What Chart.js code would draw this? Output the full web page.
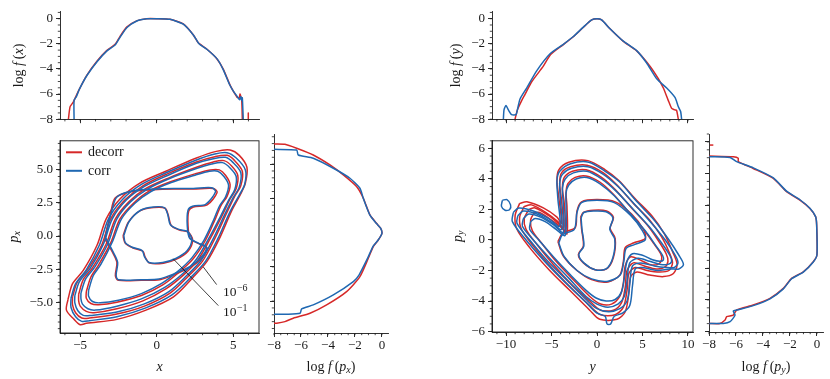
<!DOCTYPE html>
<html>
<head>
<meta charset="utf-8">
<script src="https://cdn.jsdelivr.net/npm/chart.js@4.4.1/dist/chart.umd.min.js"></script>
<style>
  body { margin: 0; background: #fff; width: 830px; height: 379px; position: relative; overflow: hidden; }
  canvas { position: absolute; }
</style>
</head>
<body>
<canvas id="fx"></canvas>
<canvas id="xpx"></canvas>
<canvas id="fpx"></canvas>
<canvas id="fy"></canvas>
<canvas id="ypy"></canvas>
<canvas id="fpy"></canvas>
<script>
const RED = '#d62828';
const BLUE = '#1f68b2';
const INK = '#1a1a1a';
const SERIF = '"Liberation Serif", "DejaVu Serif", serif';

// tick values
const xTicksL = [-5, 0, 5];
const pTicksL = [-5, -2.5, 0, 2.5, 5];
const xTicksR = [-10, -5, 0, 5, 10];
const pTicksR = [-6, -4, -2, 0, 2, 4, 6];
const logTicks = [-8, -6, -4, -2, 0];

// marginal log f(x)
const fxXRed = [-5.77, -5.66, -5.45, -5.12, -4.58, -3.92, -3.27, -2.72, -2.4, -1.96, -1.31, -0.65, 0, 0.87, 1.74, 2.4, 2.72, 3.27, 3.92, 4.36, 4.79, 5.01, 5.27, 5.4, 5.45, 5.56, 5.6];
const fxYRed = [-8, -7, -6.64, -5.77, -4.53, -3.41, -2.54, -2.04, -1.42, -0.67, -0.17, 0, 0, -0.05, -0.42, -1.29, -1.92, -2.41, -3.16, -4.03, -5.27, -5.77, -6.27, -6.3, -6.0, -6.5, -8];
const fxXRedTail = [5.99, 5.99];
const fxYRedTail = [-7.5, -8];
const fxXBlue = [-5.4, -5.4, -5.25, -5.05, -4.55, -3.9, -3.25, -2.7, -2.38, -1.94, -1.3, -0.65, 0, 0.87, 1.74, 2.42, 2.75, 3.3, 3.95, 4.35, 4.75, 4.98, 5.3, 5.42, 5.5, 5.56, 5.6, 5.66];
const fxYBlue = [-8, -6.5, -6.2, -5.6, -4.5, -3.42, -2.56, -2.07, -1.45, -0.7, -0.18, -0.01, 0, -0.05, -0.44, -1.33, -1.97, -2.45, -3.2, -4.05, -5.2, -5.7, -6.25, -6.45, -6.2, -6.5, -6.3, -8];

// marginal log f(p_x)  (value, p)
const fpxFRed = [-8, -7.19, -6.32, -5.09, -3.85, -2.86, -1.88, -1.38, -0.89, -0.4, -0.1, 0, -0.27, -0.64, -1.01, -1.63, -2.62, -4.1, -5.33, -6.57, -7.19, -7.8, -8];
const fpxPRed = [6.47, 6.45, 6.16, 5.67, 4.94, 4.21, 3.36, 2.51, 1.29, 0.68, 0.32, -0.05, -0.54, -1.02, -1.87, -3.21, -4.31, -5.28, -5.89, -6.25, -6.5, -6.62, -6.62];
const fpxFBlue = [-8, -6.32, -6.2, -5.09, -3.6, -2.37, -1.63, -1.38, -0.9, -0.42, -0.1, 0, -0.28, -0.66, -1.05, -1.7, -2.12, -3.6, -5.09, -5.95, -6.07, -7.06, -8];
const fpxPBlue = [6.08, 6.03, 5.67, 5.43, 4.7, 3.97, 3.24, 2.5, 1.3, 0.68, 0.32, -0.05, -0.54, -1.0, -1.85, -3.1, -3.58, -4.55, -5.28, -5.57, -5.89, -5.96, -5.96];

// marginal log f(y)
const fyXRed = [-9.01, -8.75, -8.28, -7.91, -7.18, -5.9, -5.1, -3.7, -2.6, -1.5, -0.59, 0, 0.51, 1.43, 2.89, 4.36, 5.82, 6.74, 7.29, 7.84, 8.21, 8.57, 8.75, 8.94];
const fyYRed = [-8, -7.26, -6.52, -6.02, -5.02, -3.78, -2.85, -2.06, -1.44, -0.68, -0.1, 0, -0.1, -0.8, -1.8, -2.56, -3.78, -4.78, -5.52, -6.52, -7.14, -7.26, -7.3, -8];
const fyXBlue = [-10.29, -10.22, -10.0, -9.74, -9.38, -8.9, -8.75, -8.46, -7.73, -6.63, -5.16, -3.7, -2.6, -1.5, -0.59, 0, 0.51, 1.43, 2.89, 4.36, 5.46, 6.56, 7.66, 8.57, 8.94, 9.19, 9.3];
const fyYBlue = [-8, -7.26, -6.9, -7.26, -7.64, -7.64, -7.26, -6.39, -5.52, -4.15, -2.79, -2.04, -1.42, -0.67, -0.1, 0, -0.1, -0.8, -1.79, -2.54, -3.53, -4.78, -5.52, -6.27, -7.01, -7.39, -8];

// marginal log f(p_y)  (value, p)
const fpyFRed = [-7.98, -6.2, -5.83, -5.83, -4.72, -3.23, -2.25, -1.26, -0.52, -0.1, -0.02, 0, -0.27, -1.01, -1.88, -2.49, -3.48, -4.72, -5.95, -6.2, -6.69, -6.81, -7.19, -7.98];
const fpyPRed = [5.1, 5.06, 4.96, 4.75, 4.32, 3.69, 2.85, 2.32, 1.79, 1.27, 0.74, -1.16, -1.58, -2.22, -2.64, -3.27, -3.9, -4.32, -4.64, -4.96, -5.06, -5.27, -5.49, -5.49];
const fpyFRedTail = [-7.93, -7.68];
const fpyPRedTail = [5.8, 5.8];
const fpyFBlue = [-7.98, -6.44, -5.95, -4.72, -3.23, -2.25, -1.26, -0.52, -0.1, -0.02, 0, -0.27, -1.01, -1.88, -2.49, -3.48, -4.72, -5.95, -6.2, -6.07, -6.44, -6.94, -7.98];
const fpyPBlue = [5.06, 5.02, 4.75, 4.36, 3.72, 2.88, 2.34, 1.8, 1.27, 0.74, -1.16, -1.6, -2.24, -2.66, -3.3, -3.93, -4.36, -4.64, -4.7, -4.96, -5.38, -5.49, -5.49];

// contours of (x, p_x), levels 1e-1 ... 1e-6
const xpxRed = [
  [[-2.2,0.0],[-1.85,1.05],[-1.1,1.9],[-0.2,2.15],[0.55,2.1],[0.75,1.6],[0.95,0.8],[1.5,0.45],[2.05,0.3],[2.35,-0.3],[2.05,-1.15],[1.3,-1.75],[0.45,-2.05],[-0.45,-2.05],[-0.75,-1.6],[-0.9,-1.15],[-1.55,-0.9],[-2.05,-0.55],[-2.2,0.0]],
  [[-3.4,-0.2],[-3.0,1.8],[-2.7,2.9],[-1.7,3.35],[-0.2,3.5],[1.1,3.55],[2.4,3.55],[3.7,3.6],[3.95,3.3],[3.3,2.35],[2.4,2.2],[2.1,1.9],[2.05,0.8],[2.2,-0.2],[2.8,-0.6],[3.3,-0.9],[3.0,-1.6],[2.3,-2.3],[1.2,-2.9],[0.2,-3.3],[-1.0,-3.35],[-2.5,-3.35],[-2.7,-3.0],[-2.6,-2.0],[-2.9,-1.2],[-3.4,-0.2]],
  [[-4.6,-4.2],[-4.3,-3.1],[-3.8,-2.2],[-3.0,-0.5],[-2.4,1.3],[-1.5,2.5],[-0.5,3.4],[0.9,4.1],[2.5,4.7],[3.5,5.0],[4.1,5.0],[4.5,4.6],[4.8,3.9],[4.6,3.0],[4.2,2.3],[3.8,1.2],[3.2,-0.3],[2.4,-1.7],[1.5,-2.7],[0.4,-3.7],[-1.0,-4.5],[-2.6,-5.0],[-3.8,-5.2],[-4.3,-5.1],[-4.6,-4.7],[-4.6,-4.2]],
  [[-5.1,-4.4],[-4.8,-3.3],[-4.2,-2.4],[-3.3,-0.6],[-2.7,1.3],[-1.8,2.6],[-0.7,3.6],[0.8,4.4],[2.6,5.2],[3.7,5.6],[4.4,5.7],[4.9,5.3],[5.3,4.6],[5.2,3.6],[4.8,2.8],[4.3,1.6],[3.5,-0.2],[2.7,-1.8],[1.8,-2.9],[0.6,-4.0],[-0.9,-4.9],[-2.6,-5.5],[-4.1,-5.8],[-4.6,-5.7],[-5.0,-5.3],[-5.1,-4.9],[-5.1,-4.4]],
  [[-5.5,-4.6],[-5.2,-3.5],[-4.5,-2.5],[-3.6,-0.7],[-3.0,1.3],[-2.1,2.7],[-0.9,3.8],[0.7,4.7],[2.6,5.6],[3.8,6.0],[4.6,6.1],[5.1,5.7],[5.6,4.9],[5.5,3.8],[5.1,3.0],[4.6,1.8],[3.8,-0.2],[3.0,-1.9],[2.1,-3.0],[0.9,-4.3],[-0.8,-5.3],[-2.6,-5.9],[-4.4,-6.2],[-4.9,-6.2],[-5.3,-5.8],[-5.5,-5.2],[-5.5,-4.6]],
  [[-5.8,-4.8],[-5.5,-3.6],[-4.8,-2.6],[-3.9,-0.7],[-3.3,1.3],[-2.4,2.8],[-1.1,4.0],[0.6,4.9],[2.6,5.9],[3.9,6.4],[4.8,6.5],[5.4,6.1],[5.9,5.2],[5.8,4.0],[5.5,3.2],[4.9,1.9],[4.1,-0.2],[3.3,-1.9],[2.4,-3.1],[1.1,-4.6],[-0.7,-5.6],[-2.6,-6.3],[-4.6,-6.6],[-5.0,-6.7],[-5.4,-6.3],[-5.9,-5.6],[-5.8,-4.8]]
];
const xpxBlue = [
  [[-2.15,0.05],[-1.8,1.1],[-1.05,1.95],[-0.2,2.2],[0.5,2.15],[0.72,1.65],[0.9,0.85],[1.45,0.5],[2.0,0.35],[2.3,-0.25],[2.0,-1.1],[1.25,-1.7],[0.4,-2.0],[-0.5,-2.0],[-0.8,-1.55],[-0.95,-1.1],[-1.6,-0.85],[-2.05,-0.5],[-2.15,0.05]],
  [[-3.35,-0.1],[-2.95,1.85],[-2.6,2.95],[-1.6,3.4],[-0.2,3.55],[1.1,3.6],[2.4,3.6],[3.6,3.65],[3.85,3.35],[3.2,2.4],[2.35,2.25],[2.05,1.95],[2.0,0.8],[2.15,-0.15],[2.75,-0.55],[3.25,-0.85],[2.95,-1.55],[2.25,-2.25],[1.15,-2.85],[0.15,-3.25],[-1.0,-3.3],[-2.5,-3.3],[-2.65,-2.95],[-2.55,-2.0],[-2.85,-1.2],[-3.35,-0.1]],
  [[-4.45,-4.1],[-4.15,-3.0],[-3.65,-2.15],[-2.9,-0.45],[-2.3,1.3],[-1.4,2.5],[-0.4,3.35],[0.95,4.05],[2.5,4.6],[3.45,4.9],[4.0,4.9],[4.4,4.5],[4.7,3.85],[4.5,2.95],[4.1,2.25],[3.7,1.15],[3.1,-0.3],[2.3,-1.65],[1.4,-2.65],[0.3,-3.6],[-1.0,-4.35],[-2.5,-4.85],[-3.7,-5.05],[-4.2,-4.95],[-4.45,-4.55],[-4.45,-4.1]],
  [[-4.95,-4.3],[-4.65,-3.25],[-4.05,-2.35],[-3.2,-0.6],[-2.6,1.3],[-1.7,2.6],[-0.6,3.55],[0.85,4.35],[2.6,5.1],[3.6,5.45],[4.3,5.55],[4.8,5.15],[5.2,4.5],[5.1,3.5],[4.7,2.7],[4.2,1.55],[3.4,-0.2],[2.6,-1.75],[1.7,-2.85],[0.5,-3.9],[-1.0,-4.75],[-2.6,-5.3],[-4.0,-5.6],[-4.5,-5.5],[-4.85,-5.15],[-4.95,-4.75],[-4.95,-4.3]],
  [[-5.35,-4.5],[-5.05,-3.45],[-4.35,-2.45],[-3.5,-0.65],[-2.9,1.3],[-2.0,2.7],[-0.8,3.75],[0.75,4.6],[2.6,5.5],[3.7,5.85],[4.5,5.95],[5.0,5.55],[5.5,4.8],[5.4,3.7],[5.0,2.9],[4.5,1.75],[3.7,-0.2],[2.9,-1.85],[2.0,-2.95],[0.8,-4.2],[-0.85,-5.15],[-2.6,-5.75],[-4.3,-6.0],[-4.8,-6.0],[-5.15,-5.65],[-5.35,-5.05],[-5.35,-4.5]],
  [[-5.6,-4.7],[-5.3,-3.6],[-4.6,-2.55],[-3.75,-0.7],[-3.15,1.3],[-2.25,2.75],[-1.0,3.9],[0.65,4.8],[2.6,5.75],[3.8,6.2],[4.6,6.3],[5.2,5.9],[5.8,5.0],[5.75,3.9],[5.4,3.1],[4.8,1.85],[4.0,-0.2],[3.2,-1.9],[2.3,-3.05],[1.0,-4.45],[-0.75,-5.45],[-2.6,-6.1],[-4.4,-6.4],[-4.9,-6.45],[-5.3,-6.1],[-5.6,-5.4],[-5.6,-4.7]]
];

// contours of (y, p_y)
const ypyRed = [
  [[-1.8,1.5],[-1.5,1.8],[-0.4,1.95],[1.05,1.9],[1.8,1.5],[1.45,0.75],[2.0,0.1],[1.8,-1.15],[1.05,-1.9],[-0.2,-1.95],[-1.5,-1.5],[-2.05,-0.95],[-1.5,-0.4],[-1.7,0.75],[-1.8,1.5]],
  [[-4.3,-0.1],[-3.7,0.5],[-2.4,0.8],[-2.2,1.9],[-1.7,2.5],[0.0,2.65],[2.0,2.5],[3.8,1.7],[5.1,0.7],[5.3,0.1],[4.0,-0.2],[3.1,-0.5],[2.9,-1.4],[2.5,-2.3],[1.2,-2.75],[-0.6,-2.6],[-2.2,-2.0],[-3.7,-1.05],[-4.3,-0.1]],
  [[-6.9,1.8],[-6.3,1.8],[-5.0,1.3],[-3.9,0.8],[-3.3,0.4],[-3.3,2.2],[-3.4,3.1],[-3.2,3.7],[-2.4,4.1],[-1.2,4.2],[0.3,3.8],[1.8,3.0],[3.5,1.8],[5.1,0.7],[6.2,-0.2],[7.0,-0.9],[7.1,-1.3],[6.7,-1.6],[5.8,-1.6],[4.7,-1.3],[3.7,-1.1],[3.1,-1.7],[2.9,-2.8],[2.5,-3.7],[1.6,-4.2],[0.4,-4.2],[-0.8,-3.7],[-2.6,-2.6],[-4.5,-1.4],[-6.1,-0.2],[-7.1,0.6],[-7.3,1.3],[-6.9,1.8]],
  [[-7.5,2.0],[-6.8,2.1],[-5.3,1.6],[-4.1,1.0],[-3.5,0.6],[-3.6,2.4],[-3.8,3.4],[-3.6,4.1],[-2.7,4.5],[-1.2,4.6],[0.5,4.1],[2.0,3.3],[3.8,2.1],[5.5,1.0],[6.7,0.0],[7.6,-0.9],[7.8,-1.4],[7.4,-1.8],[6.5,-1.9],[5.2,-1.7],[4.0,-1.5],[3.3,-2.0],[3.1,-3.1],[2.7,-4.1],[1.8,-4.6],[0.4,-4.6],[-0.8,-4.0],[-2.8,-2.9],[-4.8,-1.6],[-6.6,-0.3],[-7.8,0.7],[-8.0,1.4],[-7.5,2.0]],
  [[-8.0,2.2],[-7.2,2.3],[-5.6,1.8],[-4.3,1.2],[-3.7,0.8],[-3.9,2.6],[-4.1,3.7],[-3.9,4.4],[-2.9,4.8],[-1.1,4.9],[0.7,4.4],[2.2,3.6],[4.0,2.4],[5.8,1.3],[7.1,0.2],[8.0,-0.9],[8.3,-1.5],[7.9,-2.0],[6.9,-2.1],[5.5,-2.0],[4.2,-1.8],[3.5,-2.2],[3.3,-3.3],[2.9,-4.4],[2.0,-4.9],[0.4,-4.9],[-0.8,-4.3],[-2.9,-3.1],[-5.0,-1.8],[-7.0,-0.4],[-8.3,0.7],[-8.5,1.5],[-8.0,2.2]],
  [[-8.5,2.4],[-7.7,2.5],[-5.9,2.1],[-4.4,1.5],[-3.9,1.1],[-4.2,2.8],[-4.4,3.9],[-4.2,4.6],[-3.1,5.1],[-1.0,5.2],[0.9,4.6],[2.4,3.9],[4.2,2.7],[6.0,1.6],[7.4,0.4],[8.4,-0.9],[8.8,-1.6],[8.4,-2.2],[7.3,-2.4],[5.8,-2.3],[4.4,-2.1],[3.7,-2.4],[3.5,-3.5],[3.1,-4.7],[2.2,-5.2],[0.3,-5.2],[-0.8,-4.6],[-3.0,-3.3],[-5.2,-2.0],[-7.4,-0.5],[-8.8,0.7],[-9.0,1.6],[-8.5,2.4]]
];
const ypyBlue = [
  [[-1.75,1.45],[-1.45,1.8],[-0.4,1.9],[1.0,1.85],[1.75,1.45],[1.4,0.7],[1.95,0.05],[1.75,-1.15],[1.0,-1.9],[-0.2,-1.95],[-1.45,-1.5],[-2.0,-0.95],[-1.45,-0.4],[-1.65,0.7],[-1.75,1.45]],
  [[-4.2,-0.2],[-3.8,0.35],[-2.5,0.7],[-2.2,1.8],[-1.7,2.45],[0.0,2.6],[1.9,2.45],[3.7,1.6],[5.0,0.6],[5.3,0.0],[4.1,-0.3],[3.2,-0.55],[2.95,-1.4],[2.55,-2.3],[1.2,-2.7],[-0.6,-2.55],[-2.2,-2.0],[-3.6,-1.1],[-4.2,-0.2]],
  [[-7.3,1.2],[-6.8,1.4],[-5.7,1.2],[-4.5,0.7],[-3.5,0.3],[-3.4,2.1],[-3.4,3.1],[-3.1,3.6],[-2.3,4.0],[-1.1,4.1],[0.3,3.7],[1.9,2.9],[3.7,1.7],[5.3,0.6],[6.5,-0.4],[7.2,-1.0],[7.3,-1.3],[6.9,-1.4],[6.1,-1.3],[5.0,-1.0],[3.9,-0.9],[3.3,-1.4],[3.0,-2.5],[2.7,-3.4],[2.0,-3.9],[1.0,-4.0],[-0.1,-3.8],[-1.2,-3.3],[-2.9,-2.3],[-4.8,-1.1],[-6.4,0.0],[-7.4,0.7],[-7.3,1.2]],
  [[-8.1,1.4],[-7.5,1.7],[-6.2,1.5],[-4.8,1.0],[-3.7,0.5],[-3.7,2.3],[-3.8,3.4],[-3.5,4.0],[-2.6,4.4],[-1.1,4.5],[0.5,4.0],[2.1,3.2],[4.0,2.0],[5.7,0.9],[7.1,-0.2],[8.0,-1.0],[8.2,-1.4],[7.8,-1.6],[7.0,-1.6],[5.8,-1.4],[4.5,-1.2],[3.6,-1.5],[3.3,-2.7],[3.0,-3.7],[2.3,-4.2],[1.2,-4.4],[0.0,-4.2],[-1.2,-3.7],[-3.1,-2.5],[-5.2,-1.2],[-7.0,0.0],[-8.2,0.9],[-8.1,1.4]],
  [[-8.7,1.6],[-8.1,1.9],[-6.6,1.7],[-5.1,1.2],[-3.9,0.7],[-4.0,2.5],[-4.1,3.7],[-3.8,4.3],[-2.8,4.7],[-1.0,4.8],[0.7,4.3],[2.3,3.5],[4.2,2.3],[6.0,1.1],[7.5,0.0],[8.6,-1.0],[8.9,-1.5],[8.5,-1.8],[7.6,-1.8],[6.3,-1.7],[4.8,-1.5],[3.9,-1.7],[3.6,-2.9],[3.3,-4.0],[2.5,-4.5],[1.3,-4.7],[0.0,-4.5],[-1.2,-3.9],[-3.2,-2.7],[-5.4,-1.4],[-7.4,0.0],[-8.8,1.1],[-8.7,1.6]],
  [[-9.2,1.8],[-8.6,2.1],[-7.0,1.9],[-5.3,1.4],[-4.1,0.9],[-4.3,2.7],[-4.4,3.9],[-4.1,4.5],[-2.9,5.0],[-0.9,5.1],[0.9,4.5],[2.5,3.8],[4.4,2.5],[6.3,1.3],[7.8,0.1],[9.0,-1.0],[9.5,-1.6],[9.0,-1.9],[8.0,-1.9],[6.6,-2.0],[5.0,-1.8],[4.2,-1.9],[3.9,-3.0],[3.6,-4.3],[2.8,-4.8],[1.9,-5.0],[1.5,-5.5],[1.1,-5.5],[0.9,-5.0],[0.0,-4.8],[-1.2,-4.1],[-3.3,-2.9],[-5.6,-1.5],[-7.8,0.0],[-9.3,1.2],[-9.2,1.8]],
  [[-10.4,2.6],[-9.9,2.65],[-9.5,2.3],[-9.6,2.0],[-10.1,1.95],[-10.5,2.2],[-10.4,2.6]]
];

// level labels
const levelNotes = [
  { exp: '\u22126', from: [3.05, -2.34], to: [3.92, -3.67], at: [4.33, -4.55] },
  { exp: '\u22121', from: [1.08, -1.72], to: [4.03, -5.26], at: [4.33, -6.08] }
];
const legendItems = [['decorr', RED], ['corr', BLUE]];

const minus = s => String(s).replace('-', '\u2212');
const fmtInt = v => minus(v);
const fmtOne = v => minus(v.toFixed(1));

function pairs(xs, ys) { return xs.map((x, i) => ({ x: x, y: ys[i] })); }
function pts(list) { return list.map(p => ({ x: p[0], y: p[1] })); }
function line(data, color, order, tension) {
  return { data: data, borderColor: color, borderWidth: 1.5, pointRadius: 0, showLine: true,
    tension: tension, fill: false, order: order, borderJoinStyle: 'round' };
}

function drawRich(ctx, parts, cx, cy, rot) {
  const fonts = parts.map(p => (p[1] ? 'italic ' : '') + (p[2] ? 10 : 14) + 'px ' + SERIF);
  let w = 0;
  const ws = parts.map((p, i) => { ctx.font = fonts[i]; const m = ctx.measureText(p[0]).width; w += m; return m; });
  ctx.save();
  ctx.translate(cx, cy);
  if (rot) ctx.rotate(-Math.PI / 2);
  ctx.fillStyle = INK;
  ctx.textBaseline = 'alphabetic';
  let x = -w / 2;
  parts.forEach((p, i) => { ctx.font = fonts[i]; ctx.fillText(p[0], x, p[2] ? 7 : 4.5); x += ws[i]; });
  ctx.restore();
}

const deco = {
  id: 'deco',
  afterDraw(chart, args, o) {
    const ctx = chart.ctx, a = chart.chartArea;
    const xs = chart.scales.x, ys = chart.scales.y;
    ctx.save();
    ctx.strokeStyle = INK;
    ctx.lineWidth = 0.8;
    ctx.beginPath();
    for (let v = Math.ceil(xs.min / o.xMinor) * o.xMinor; v <= xs.max + 1e-9; v += o.xMinor) {
      const p = xs.getPixelForValue(v);
      ctx.moveTo(p, a.bottom); ctx.lineTo(p, a.bottom + 2.2);
    }
    for (let v = Math.ceil(ys.min / o.yMinor) * o.yMinor; v <= ys.max + 1e-9; v += o.yMinor) {
      const p = ys.getPixelForValue(v);
      ctx.moveTo(a.left, p); ctx.lineTo(a.left - 2.2, p);
    }
    ctx.stroke();
    if (o.box) {
      ctx.lineWidth = 0.9;
      ctx.strokeRect(a.left, a.top, a.right - a.left, a.bottom - a.top);
    }
    if (o.legend) {
      o.legend.forEach((it, i) => {
        const y = a.top + 11.5 + i * 18.5;
        ctx.strokeStyle = it[1]; ctx.lineWidth = 2;
        ctx.beginPath(); ctx.moveTo(a.left + 6, y); ctx.lineTo(a.left + 22, y); ctx.stroke();
        ctx.fillStyle = INK; ctx.font = '14px ' + SERIF; ctx.textBaseline = 'middle';
        ctx.fillText(it[0], a.left + 28, y + 0.5);
      });
    }
    if (o.notes) {
      o.notes.forEach(n => {
        ctx.strokeStyle = '#111'; ctx.lineWidth = 0.8;
        ctx.beginPath();
        ctx.moveTo(xs.getPixelForValue(n.from[0]), ys.getPixelForValue(n.from[1]));
        ctx.lineTo(xs.getPixelForValue(n.to[0]), ys.getPixelForValue(n.to[1]));
        ctx.stroke();
        const tx = xs.getPixelForValue(n.at[0]), ty = ys.getPixelForValue(n.at[1]);
        ctx.fillStyle = INK; ctx.textBaseline = 'alphabetic';
        ctx.font = '13.5px ' + SERIF;
        ctx.fillText('10', tx, ty);
        const w = ctx.measureText('10').width;
        ctx.font = '10px ' + SERIF;
        ctx.fillText(n.exp, tx + w + 0.5, ty - 5.5);
      });
    }
    if (o.xTitle) drawRich(ctx, o.xTitle, (a.left + a.right) / 2, a.bottom + o.xTitleDy, false);
    if (o.yTitle) drawRich(ctx, o.yTitle, a.left - o.yTitleDx, (a.top + a.bottom) / 2, true);
    ctx.restore();
  }
};

function axis(min, max, majors, fmt, labels, size, horiz) {
  return {
    type: 'linear', min: min, max: max,
    afterBuildTicks: s => { s.ticks = majors.map(v => ({ value: v })); },
    afterFit: s => { if (horiz) s.height = size; else s.width = size; },
    border: { display: true, color: INK, width: 0.9 },
    grid: { drawOnChartArea: false, drawTicks: true, tickLength: 4, color: INK, lineWidth: 0.9 },
    ticks: { display: labels, padding: horiz ? 1 : 3, color: INK, autoSkip: false, maxRotation: 0,
      font: { family: SERIF, size: 13 }, callback: v => fmt(v) }
  };
}

// area = [left, top, right, bottom] of the plotting box; m = [left, top, right, bottom] margins
function panel(id, area, m, datasets, xAxis, yAxis, decoOpts) {
  const cv = document.getElementById(id);
  cv.width = area[2] - area[0] + m[0] + m[2];
  cv.height = area[3] - area[1] + m[1] + m[3];
  cv.style.left = (area[0] - m[0]) + 'px';
  cv.style.top = (area[1] - m[1]) + 'px';
  return new Chart(cv.getContext('2d'), {
    type: 'scatter',
    data: { datasets: datasets },
    options: {
      responsive: false, animation: false, events: [],
      layout: { autoPadding: false, padding: { top: m[1], right: m[2], left: 0, bottom: 0 } },
      scales: { x: xAxis, y: yAxis },
      plugins: { legend: { display: false }, tooltip: { enabled: false }, deco: decoOpts }
    },
    plugins: [deco]
  });
}

const XL = [-6.32, 6.69], PL = [-7.33, 7.2];
const XR = [-11.54, 10.55], PR = [-6.03, 6.5];
const LOGR = [-8, 0.45], LOGT = [-8, 0.55];

const T_logfx = [['log ', 0], ['f', 1], ['\u2009(', 0], ['x', 1], [')', 0]];
const T_logfy = [['log ', 0], ['f', 1], ['\u2009(', 0], ['y', 1], [')', 0]];
const T_logfpx = [['log ', 0], ['f', 1], ['\u2009(', 0], ['p', 1], ['x', 1, 1], [')', 0]];
const T_logfpy = [['log ', 0], ['f', 1], ['\u2009(', 0], ['p', 1], ['y', 1, 1], [')', 0]];
const T_px = [['p', 1], ['x', 1, 1]];
const T_py = [['p', 1], ['y', 1, 1]];

function contourSets(red, blue) {
  const out = [];
  red.forEach(c => out.push(line(pts(c), RED, 1, 0.3)));
  blue.forEach(c => out.push(line(pts(c), BLUE, 0, 0.3)));
  return out;
}

document.addEventListener('DOMContentLoaded', () => {
  // top-left: log f(x)
  panel('fx', [60, 5, 259, 120], [60, 4, 8, 10],
    [line(pairs(fxXRed, fxYRed), RED, 1, 0.2), line(pairs(fxXRedTail, fxYRedTail), RED, 1, 0),
     line(pairs(fxXBlue, fxYBlue), BLUE, 0, 0.2)],
    axis(XL[0], XL[1], xTicksL, fmtInt, false, 10, true),
    axis(LOGT[0], LOGT[1], logTicks, fmtInt, true, 60, false),
    { xMinor: 1, yMinor: 0.5, yTitle: T_logfx, yTitleDx: 42 });

  // main left: x vs p_x
  panel('xpx', [60, 134, 259, 333], [60, 4, 8, 46],
    contourSets(xpxRed, xpxBlue),
    axis(XL[0], XL[1], xTicksL, fmtInt, true, 46, true),
    axis(PL[0], PL[1], pTicksL, fmtOne, true, 60, false),
    { xMinor: 1, yMinor: 0.5, box: true, legend: legendItems, notes: levelNotes,
      xTitle: [['x', 1]], xTitleDy: 33, yTitle: T_px, yTitleDx: 47 });

  // right-left: log f(p_x)
  panel('fpx', [274, 134, 388, 333], [12, 4, 10, 46],
    [line(pairs(fpxFRed, fpxPRed), RED, 1, 0.2), line(pairs(fpxFBlue, fpxPBlue), BLUE, 0, 0.2)],
    axis(LOGR[0], LOGR[1], logTicks, fmtInt, true, 46, true),
    axis(PL[0], PL[1], pTicksL, fmtOne, false, 12, false),
    { xMinor: 0.5, yMinor: 0.5, xTitle: T_logfpx, xTitleDy: 33 });

  // top-right: log f(y)
  panel('fy', [492, 5, 693, 120], [60, 4, 8, 10],
    [line(pairs(fyXRed, fyYRed), RED, 1, 0.2), line(pairs(fyXBlue, fyYBlue), BLUE, 0, 0.2)],
    axis(XR[0], XR[1], xTicksR, fmtInt, false, 10, true),
    axis(LOGT[0], LOGT[1], logTicks, fmtInt, true, 60, false),
    { xMinor: 1, yMinor: 0.5, yTitle: T_logfy, yTitleDx: 37 });

  // main right: y vs p_y
  panel('ypy', [492, 134, 693, 332], [60, 4, 8, 47],
    contourSets(ypyRed, ypyBlue),
    axis(XR[0], XR[1], xTicksR, fmtInt, true, 47, true),
    axis(PR[0], PR[1], pTicksR, fmtInt, true, 60, false),
    { xMinor: 1, yMinor: 0.5, box: true, xTitle: [['y', 1]], xTitleDy: 34, yTitle: T_py, yTitleDx: 35 });

  // right-right: log f(p_y)
  panel('fpy', [709, 134, 823, 332], [12, 4, 7, 47],
    [line(pairs(fpyFRed, fpyPRed), RED, 1, 0.2), line(pairs(fpyFRedTail, fpyPRedTail), RED, 1, 0),
     line(pairs(fpyFBlue, fpyPBlue), BLUE, 0, 0.2)],
    axis(LOGR[0], LOGR[1], logTicks, fmtInt, true, 47, true),
    axis(PR[0], PR[1], pTicksR, fmtInt, false, 12, false),
    { xMinor: 0.5, yMinor: 0.5, xTitle: T_logfpy, xTitleDy: 34 });
});
</script>
</body>
</html>
